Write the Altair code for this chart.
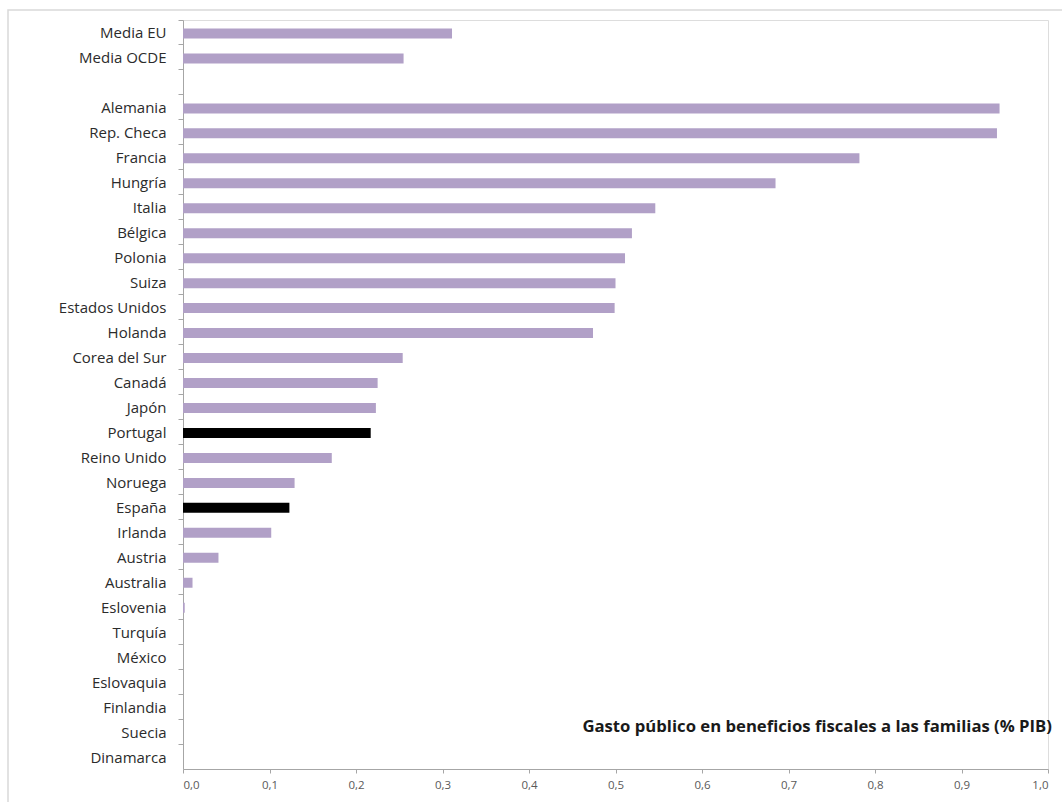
import altair as alt
import pandas as pd

# Public spending on family tax benefits, % of GDP
paises = [
    "Media EU", "Media OCDE", " ",
    "Alemania", "Rep. Checa", "Francia", "Hungría", "Italia", "Bélgica",
    "Polonia", "Suiza", "Estados Unidos", "Holanda", "Corea del Sur",
    "Canadá", "Japón", "Portugal", "Reino Unido", "Noruega", "España",
    "Irlanda", "Austria", "Australia", "Eslovenia", "Turquía", "México",
    "Eslovaquia", "Finlandia", "Suecia", "Dinamarca",
]
gasto = [
    0.311, 0.255, 0.0,
    0.944, 0.941, 0.782, 0.685, 0.546, 0.519,
    0.511, 0.500, 0.499, 0.474, 0.254,
    0.225, 0.223, 0.217, 0.172, 0.129, 0.123,
    0.102, 0.041, 0.011, 0.002, 0.0, 0.0,
    0.0, 0.0, 0.0, 0.0,
]
destacados = ["Portugal", "España"]
ticks_x = [round(i / 10, 1) for i in range(11)]
titulo = "Gasto público en beneficios fiscales a las familias (% PIB)"

df = pd.DataFrame({"pais": paises, "gasto": gasto})
df["destacado"] = df["pais"].isin(destacados)

W, H = 865, 749
FONT = "Open Sans"

bars = alt.Chart(df).mark_bar(size=10, yOffset=1).encode(
    y=alt.Y(
        "pais:N",
        sort=paises,
        title=None,
        scale=alt.Scale(paddingInner=0, paddingOuter=0),
        axis=alt.Axis(
            bandPosition=0,
            tickSize=5,
            tickColor="#a6a6a6",
            domainColor="#a6a6a6",
            labelFont=FONT,
            labelFontSize=15,
            labelColor="#2b2b2b",
            labelPadding=12,
            labelBound=False,
            labelOffset=1,
        ),
    ),
    x=alt.X(
        "gasto:Q",
        title=None,
        scale=alt.Scale(domain=[0, 1], nice=False),
        axis=alt.Axis(
            values=ticks_x,
            labelExpr="replace(format(datum.value, '.1f'), '.', ',')",
            grid=False,
            tickSize=4,
            tickColor="#a6a6a6",
            domainColor="#a6a6a6",
            labelFont=FONT,
            labelFontSize=11.5,
            labelColor="#595959",
            labelPadding=6,
        ),
    ),
    color=alt.condition(
        alt.datum.destacado, alt.value("#000000"), alt.value("#b1a0c7")
    ),
)

etiqueta = alt.Chart(pd.DataFrame({"t": [titulo]})).mark_text(
    align="right",
    baseline="middle",
    font=FONT,
    fontSize=16.7,
    fontWeight="bold",
    color="#1a1a1a",
).encode(
    text="t:N",
    x=alt.value(W + 4),
    y=alt.value(707),
)

marco = alt.Chart(pd.DataFrame({"t": [0]})).mark_rect(
    fill=None, stroke="#d9d9d9", strokeWidth=1.5, clip=False
).encode(
    x=alt.value(-175),
    x2=alt.value(W + 30),
    y=alt.value(-10),
    y2=alt.value(H + 60),
)

chart = (
    alt.layer(marco, bars, etiqueta)
    .properties(
        width=W,
        height=H,
        padding={"left": 183, "top": 20, "right": 14, "bottom": 33},
        autosize=alt.AutoSizeParams(type="none"),
    )
    .configure_view(stroke=None)
    .configure(background="white")
)

chart.save("out.html", embed_options={"renderer": "svg", "actions": False})
